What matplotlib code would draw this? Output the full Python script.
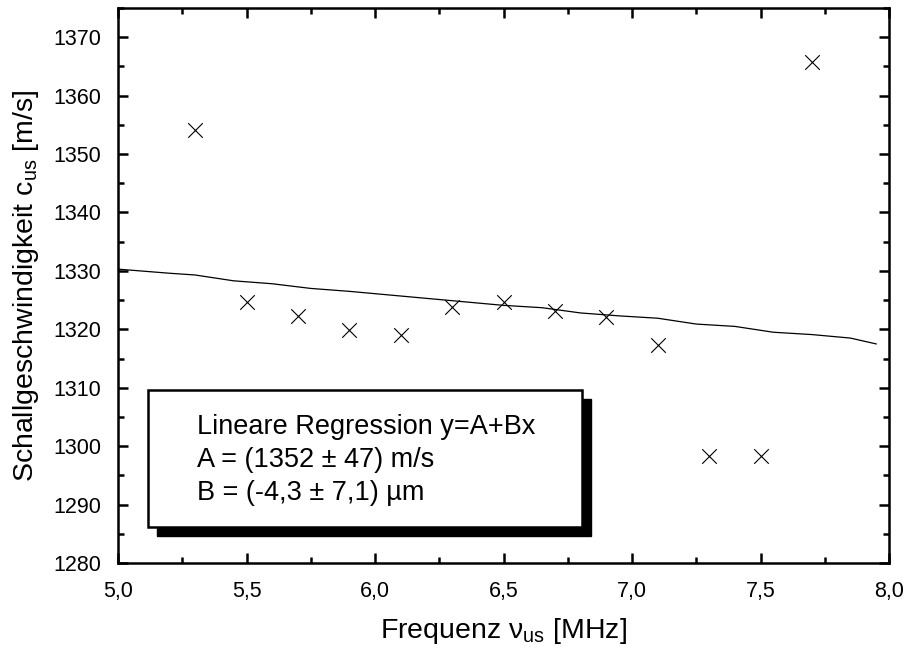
import matplotlib
matplotlib.use("Agg")
import matplotlib.pyplot as plt
from matplotlib.patches import Rectangle
from matplotlib.ticker import MultipleLocator, FuncFormatter

plt.rcParams['font.family'] = ['Liberation Sans', 'DejaVu Sans']
plt.rcParams['mathtext.fontset'] = 'custom'
plt.rcParams['mathtext.rm'] = 'Liberation Sans'
plt.rcParams['mathtext.it'] = 'Liberation Sans'

# measured data
freq = [5.3, 5.5, 5.7, 5.9, 6.1, 6.3, 6.5, 6.7, 6.9, 7.1, 7.3, 7.5, 7.7]
speed = [1354.2, 1324.6, 1322.2, 1319.8, 1319.1, 1323.9, 1324.6, 1323.2,
         1322.1, 1317.3, 1298.3, 1298.3, 1365.8]

# regression line as drawn
fit_x = [5.0, 5.2, 5.3, 5.45, 5.6, 5.75, 5.9, 6.05, 6.2, 6.35, 6.5, 6.65,
         6.8, 6.95, 7.1, 7.25, 7.4, 7.55, 7.7, 7.85, 7.95]
fit_y = [1330.3, 1329.6, 1329.3, 1328.3, 1327.8, 1327.0, 1326.5, 1325.9,
         1325.3, 1324.7, 1324.1, 1323.7, 1322.8, 1322.3, 1321.9, 1320.9,
         1320.5, 1319.5, 1319.1, 1318.5, 1317.5]

legend_lines = ["Lineare Regression y=A+Bx",
                "A = (1352 ± 47) m/s",
                "B = (-4,3 ± 7,1) µm"]

fig = plt.figure(figsize=(9.08, 6.5), dpi=100)
ax = fig.add_axes([118/908, 1-563/650, 771/908, 555/650])

ax.plot(fit_x, fit_y, color='black', lw=0.9)
ax.scatter(freq, speed, marker='x', s=110, color='black', linewidths=0.8, zorder=3)

ax.set_xlim(5.0, 8.0)
ax.set_ylim(1280, 1375)
ax.xaxis.set_major_locator(MultipleLocator(0.5))
ax.xaxis.set_minor_locator(MultipleLocator(0.25))
ax.yaxis.set_major_locator(MultipleLocator(10))
ax.yaxis.set_minor_locator(MultipleLocator(5))
ax.xaxis.set_major_formatter(FuncFormatter(lambda v, p: f"{v:.1f}".replace('.', ',')))
ax.yaxis.set_major_formatter(FuncFormatter(lambda v, p: f"{v:.0f}"))

ax.tick_params(which='both', direction='in', top=True, right=True, width=1.8,
               labelsize=15.5)
ax.tick_params(axis='x', which='both', pad=13)
ax.tick_params(axis='y', which='both', pad=12)
ax.tick_params(which='major', length=7)
ax.tick_params(which='minor', length=4)
for s in ax.spines.values():
    s.set_linewidth(1.8)

ax.set_xlabel(r"Frequenz $\mathregular{\nu_{us}}$ [MHz]", fontsize=20.5, labelpad=10)
ax.set_ylabel(r"Schallgeschwindigkeit $\mathregular{c_{us}}$ [m/s]", fontsize=20.5, labelpad=9)

# legend box with shadow
bx0, by0, bw, bh = 0.039, 0.065, 0.563, 0.247
ax.add_patch(Rectangle((bx0 + 0.011, by0 - 0.016), bw, bh, transform=ax.transAxes,
                       facecolor='black', edgecolor='black', zorder=4))
ax.add_patch(Rectangle((bx0, by0), bw, bh, transform=ax.transAxes,
                       facecolor='white', edgecolor='black', lw=1.8, zorder=5))
for i, t in enumerate(legend_lines):
    ax.text(0.103, 0.245 - i * 0.059, t, transform=ax.transAxes, fontsize=19.5,
            va='center', ha='left', zorder=6)

fig.savefig("out.png", dpi=100)
